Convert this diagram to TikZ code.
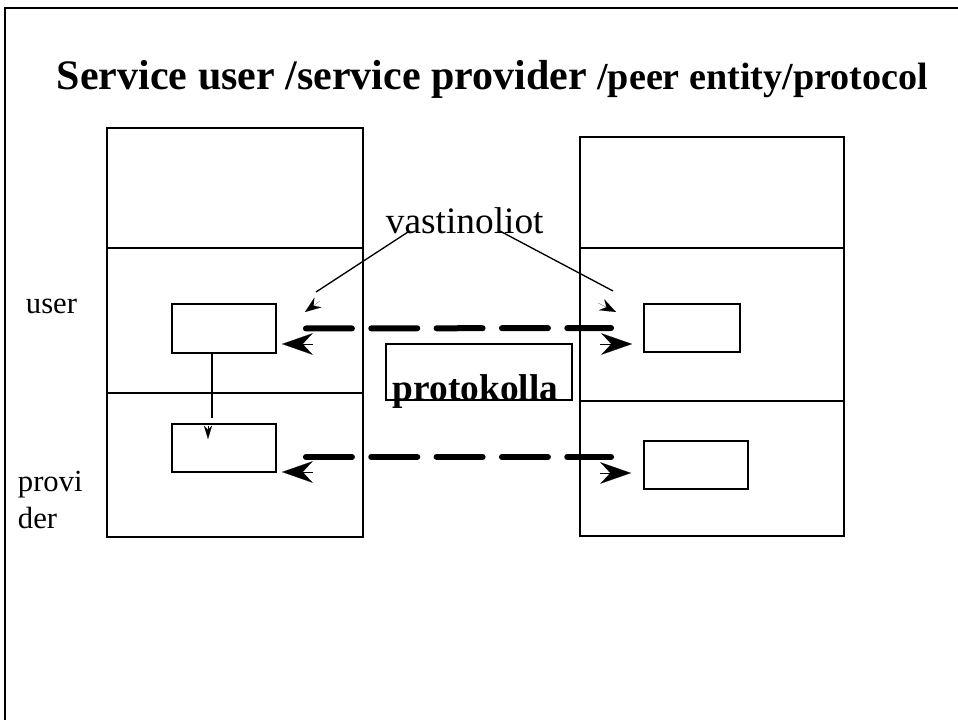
\documentclass[tikz,border=0pt]{standalone}
\usepackage{fontspec}
\setmainfont{Liberation Serif}
\usetikzlibrary{arrows.meta}

\begin{document}
\begin{tikzpicture}[x=0.75pt,y=-0.75pt,line width=1.4pt,
		layer/.style={draw,rectangle,inner sep=0pt},
		unit/.style={draw,rectangle,inner sep=0pt,minimum width=78pt,minimum height=36pt},
		peer/.style={line width=4.5pt,line cap=round,dash pattern=on 34.5pt off 14.5pt},
		bighead/.style={-{Stealth[length=23pt,width=16pt,inset=7.5pt]},line width=0.05pt},
		vhead/.style={-{Stealth[length=12pt,width=9pt,inset=4pt]},line width=0.05pt}]
	\useasboundingbox (0,0) rectangle (958,720);
	\draw (958,8) -- (5,8) -- (5,720);
	% title
	\node [anchor=base west,inner sep=0pt,font=\bfseries] (title) at (56,90)
		{{\fontsize{31.5}{36}\selectfont Service user /service provider }{\fontsize{28.6}{32}\selectfont /peer entity/protocol}};
	% left stack
	\node [layer,minimum width=192pt,minimum height=90pt] (ltop) at (235,188) {};
	\node [layer,minimum width=192pt,minimum height=108.75pt] (luser) at (235,320.5) {};
	\node [layer,minimum width=192pt,minimum height=108pt] (lprov) at (235,465) {};
	\node [unit,minimum height=36.75pt] (lu) at (224,328.5) {};
	\node [unit] (lp) at (224,448) {};
	% right stack
	\node [layer,minimum width=198pt,minimum height=83.25pt] (rtop) at (712,192.5) {};
	\node [layer,minimum width=198pt,minimum height=114.75pt] (ruser) at (712,324.5) {};
	\node [layer,minimum width=198pt,minimum height=101.25pt] (rprov) at (712,468.5) {};
	\node [unit,minimum width=72pt] (ru) at (692,328) {};
	\node [unit] (rp) at (696,465) {};
	% labels
	\node [anchor=base west,inner sep=0pt,font=\fontsize{23}{27}\selectfont] (user) at (25,314) {user};
	\node [anchor=base west,inner sep=0pt,font=\fontsize{23}{27}\selectfont] (provi) at (17,492) {provi};
	\node [anchor=base west,inner sep=0pt,font=\fontsize{23}{27}\selectfont] (der) at (17,528) {der};
	\node [draw,rectangle,inner sep=0pt,minimum width=139.5pt,minimum height=42pt] (pbox) at (479,372) {};
	\node [anchor=base west,inner sep=0pt,font=\fontsize{28}{32}\selectfont\bfseries] (proto) at (392,401) {protokolla};
	\node [anchor=base west,inner sep=0pt,font=\fontsize{28}{32}\selectfont] (vast) at (385,234) {vastinoliot};
	% peers
	\coordinate (vl) at (316,292);
	\coordinate (vr) at (613,291);
	\draw [line width=1pt] ([xshift=17.25pt,yshift=1.5pt]vast.base west) -- (vl);
	\draw [line width=1pt] ([xshift=84.75pt,yshift=3pt]vast.base west) -- (vr);
	\draw [vhead] (320,301) -- (305,312);
	\draw [vhead] (598,303) -- (616,312);
	% protocol
	\draw [peer] ([xshift=21.75pt]lu.east) -- ([xshift=-24pt]ru.west);
	\draw [peer] ([xshift=21.75pt,yshift=-6.75pt]lp.east) -- ([xshift=-24pt,yshift=6pt]rp.west);
	\draw [bighead] (313,344) -- (282,344);
	\draw [bighead] (600,344) -- (632,344);
	\draw [bighead] (313,472) -- (282,472);
	\draw [bighead] (600,473) -- (631,473);
	% service
	\draw [line width=1pt] ([xshift=-9pt]lu.south) -- ([xshift=-9pt,yshift=3.5pt]lp.north);
	\draw [-{Stealth[length=10pt,width=6pt,inset=3pt]},line width=0.05pt] ([xshift=-12pt,yshift=-2pt]lp.north) -- ([xshift=-12pt,yshift=-12pt]lp.north);
\end{tikzpicture}
\end{document}
